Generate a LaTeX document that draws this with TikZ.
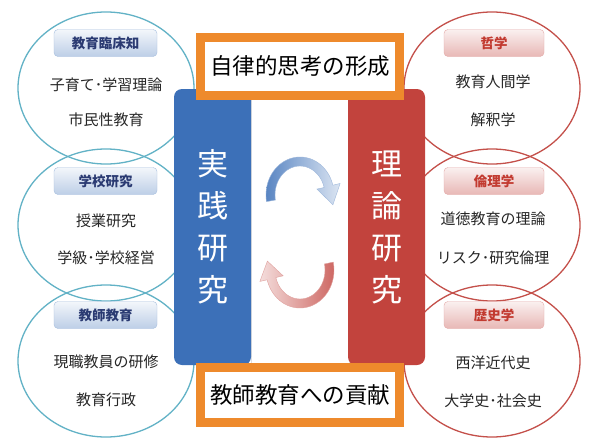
\documentclass[tikz,border=0pt]{standalone}
\usepackage{fontspec}
\setmainfont{Noto Sans CJK JP}
\usetikzlibrary{shapes.geometric}
\definecolor{tealc}{HTML}{62B2C6}
\definecolor{redc}{HTML}{C4504A}
\definecolor{bluebox}{HTML}{3C70B8}
\definecolor{redbox}{HTML}{C2433D}
\definecolor{orangec}{HTML}{EE8A2C}
\definecolor{navy}{HTML}{2A3A72}
\definecolor{redtxt}{HTML}{C23A30}
\definecolor{graytxt}{HTML}{262626}
\colorlet{lblborder}{bluebox!45!white}
\colorlet{lbltop}{bluebox!6!white}
\colorlet{lblbot}{bluebox!34!white}
\colorlet{rlblborder}{redbox!45!white}
\colorlet{rlbltop}{redbox!8!white}
\colorlet{rlblbot}{redbox!38!white}
\tikzset{
  lcirc/.style={ellipse,draw=tealc,line width=1.3pt,inner sep=0pt,minimum width=176pt,minimum height=152pt},
  rcirc/.style={ellipse,draw=redc,line width=1.3pt,inner sep=0pt,minimum width=176pt,minimum height=152pt},
  llabel/.style={draw=lblborder,rounded corners=4pt,top color=lbltop,bottom color=lblbot,minimum width=103pt,minimum height=27pt,inner sep=0pt,text=navy,font=\fontsize{13.5}{15}\selectfont\bfseries},
  rlabel/.style={draw=rlblborder,rounded corners=4pt,top color=rlbltop,bottom color=rlblbot,minimum width=100pt,minimum height=27pt,inner sep=0pt,text=redtxt,font=\fontsize{13.5}{15}\selectfont\bfseries},
  itemtxt/.style={text=graytxt,font=\fontsize{15}{17}\selectfont,inner sep=0pt},
  bigbox/.style={rounded corners=8pt,minimum width=77pt,minimum height=276pt,inner sep=0pt,text=white,align=center,font=\fontsize{31}{42}\selectfont},
  obox/.style={draw=orangec,line width=9pt,fill=white,minimum width=199pt,inner sep=0pt,font=\fontsize{22.5}{24}\selectfont,text=black},
}
\begin{document}
\begin{tikzpicture}[x=1pt,y=-1pt]
\useasboundingbox[fill=white] (0,0) rectangle (592,442);
% circles
\node[lcirc] (lc1) at (106,88) {};
\node[lcirc] (lc2) at (106,225) {};
\node[lcirc] (lc3) at (106,361) {};
\node[rcirc] (rc1) at (492,88) {};
\node[rcirc] (rc2) at (492,225) {};
\node[rcirc] (rc3) at (492,361) {};
% labels
\node[llabel] (ll1) at (105.5,43) {教育臨床知};
\node[llabel] (ll2) at (105.5,181) {学校研究};
\node[llabel] (ll3) at (105.5,315) {教師教育};
\node[rlabel] (rl1) at (494,43) {哲学};
\node[rlabel] (rl2) at (494,181) {倫理学};
\node[rlabel] (rl3) at (494,315) {歴史学};
% item texts
\node[itemtxt] (l1a) at (106,85) {子育て･学習理論};
\node[itemtxt] (l1b) at (106,120) {市民性教育};
\node[itemtxt] (l2a) at (106,221) {授業研究};
\node[itemtxt] (l2b) at (106,258) {学級･学校経営};
\node[itemtxt] (l3a) at (106,362) {現職教員の研修};
\node[itemtxt] (l3b) at (106,400) {教育行政};
\node[itemtxt] (r1a) at (493,82) {教育人間学};
\node[itemtxt] (r1b) at (493,120) {解釈学};
\node[itemtxt] (r2a) at (493,219) {道徳教育の理論};
\node[itemtxt] (r2b) at (493,258) {リスク･研究倫理};
\node[itemtxt] (r3a) at (493,363) {西洋近代史};
\node[itemtxt] (r3b) at (493,401) {大学史･社会史};
% middle strip
\node[draw=black!12,fill=white,minimum width=98pt,minimum height=268pt,inner sep=0pt] (mid) at (300,230) {};
% main boxes
\node[bigbox,fill=bluebox] (prac) at (212.5,227) {実\\践\\研\\究};
\node[bigbox,fill=redbox] (theo) at (386.5,227) {理\\論\\研\\究};
% orange boxes
\node[obox,minimum height=58pt] (top) at (300,66) {自律的思考の形成};
\node[obox,minimum height=55pt] (bot) at (300,395) {教師教育への貢献};
% cycle arrows
\shade[left color=bluebox!85!white,right color=bluebox!18!white,draw=bluebox!50!white,line width=0.4pt]
  plot[domain=190:15,samples=50] ({300+34*cos(\x)},{195-38*sin(\x)})
  -- (340.1,183.5) -- (332.9,204.7) -- (316.9,189.1)
  -- plot[domain=15:190,samples=50] ({300+25*cos(\x)},{195-29*sin(\x)}) -- cycle;
\shade[left color=redbox!18!white,right color=redbox!80!white,draw=redbox!50!white,line width=0.4pt]
  plot[domain=-12:165,samples=50] ({300+34*cos(\x)},{270+38*sin(\x)})
  -- (259.9,281.4) -- (267.4,261.1) -- (283.1,275.8)
  -- plot[domain=165:-12,samples=50] ({300+25*cos(\x)},{270+29*sin(\x)}) -- cycle;
\end{tikzpicture}
\end{document}
